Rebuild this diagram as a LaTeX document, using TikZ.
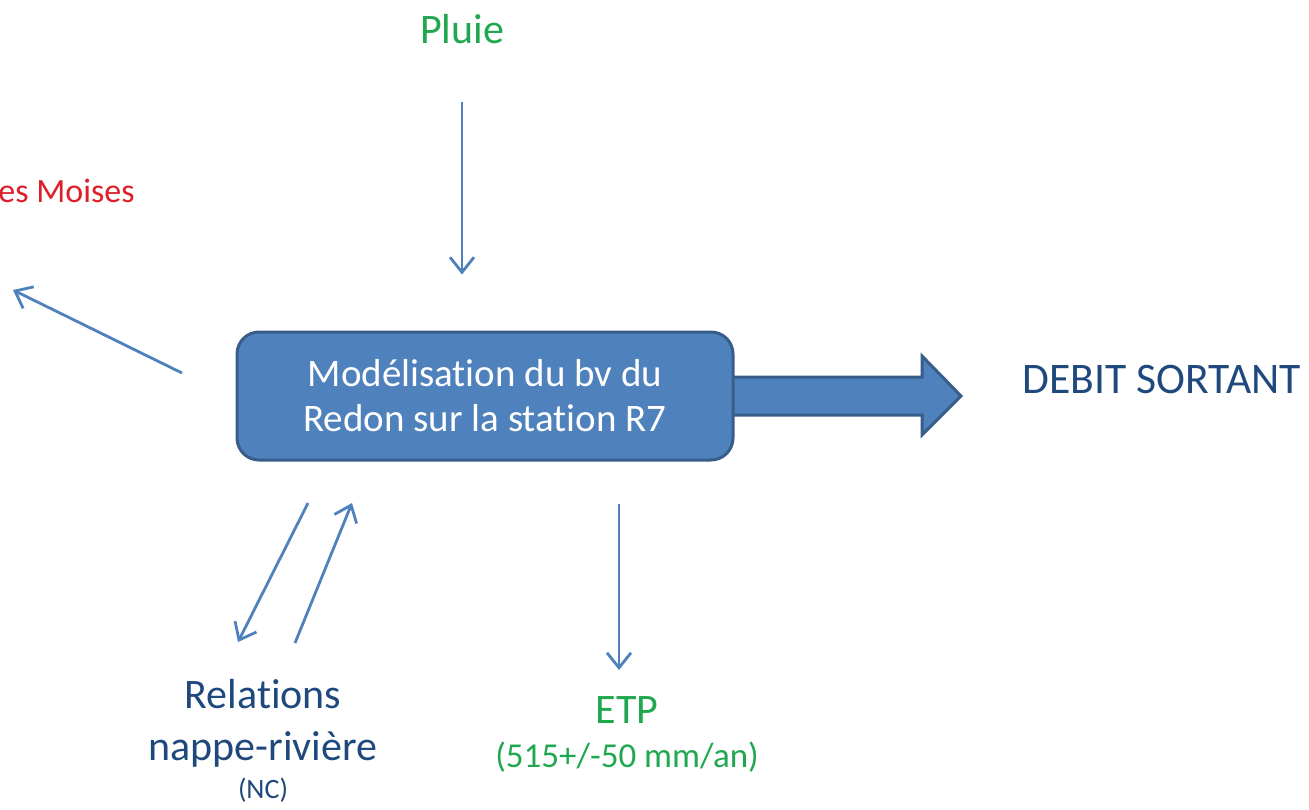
\documentclass[tikz,border=0pt]{standalone}
\usepackage{fontspec}
\setmainfont{Carlito}[Ligatures=NoCommon]
\usetikzlibrary{arrows.meta, positioning, calc}

\definecolor{boxfill}{RGB}{79,129,189}
\definecolor{boxline}{RGB}{56,93,138}
\definecolor{flowblue}{RGB}{79,129,189}
\definecolor{txtgreen}{RGB}{32,168,80}
\definecolor{txtred}{RGB}{222,30,40}
\definecolor{txtnavy}{RGB}{31,73,125}

\begin{document}
\begin{tikzpicture}[x=0.5pt, y=-0.5pt,
  >={Straight Barb[length=7.5pt, width=12pt]},
  flux/.style={->, draw=flowblue, line width=1.4pt},
  modbox/.style={draw=boxline, fill=boxfill, line width=1.5pt, rounded corners=11pt,
                 minimum width=248pt, minimum height=64pt, align=center, text=white,
                 font=\fontsize{19.5}{22.5}\selectfont},
  txt/.style={inner sep=0pt, align=center, font=\fontsize{21}{26}\selectfont}]
  \useasboundingbox (0,0) rectangle (1309,809);

  % big output arrow, under the box
  \draw[boxline, fill=boxfill, line width=1.5pt]
    (700,377) -- (922,377) -- (922,356) -- (961,396) -- (922,435) -- (922,415) -- (700,415) -- cycle;
  \node[modbox] (modele) at (485,396) {Modélisation du bv du\\Redon sur la station R7};

  \node[txt, anchor=base, text=txtgreen] (pluie) at (462,43) {Pluie};
  \node[txt, anchor=base west, text=txtred, font=\fontsize{17}{20}\selectfont] (moises) at (-2,202) {es Moises};
  \node[txt, anchor=base west, text=txtnavy, font=\fontsize{21.8}{26}\selectfont] (debit) at (1022,393) {DEBIT SORTANT};
  \node[txt, anchor=north, text=txtnavy] (relations) at (263,679)
    {Relations\\nappe-rivière\\[-7pt]{\fontsize{14}{16}\selectfont (NC)}};
  \node[txt, anchor=north, text=txtgreen] (etp) at (627,696)
    {ETP\\[-4pt]{\fontsize{17.5}{20}\selectfont (515+/-50 mm/an)}};

  % free ends of the thin arrows
  \coordinate (moises-in) at (13,290);
  \coordinate (moises-out) at (182,373);
  \coordinate (nappe-in) at (238,642);
  \coordinate (nappe-out) at (308,503);
  \coordinate (riv-in) at (352,503);
  \coordinate (riv-out) at (295,643);
  \coordinate (etpx) at (619,0);

  \draw[flux, shorten <=29pt, shorten >=28pt] (pluie.south) -- (pluie |- modele.north);
  \draw[flux, shorten <=21pt, shorten >=13pt] (modele.south -| etpx) -- (etp.north -| etpx);
  \draw[flux] (moises-out) -- (moises-in);
  \draw[flux] (nappe-out) -- (nappe-in);
  \draw[flux] (riv-out) -- (riv-in);
\end{tikzpicture}
\end{document}
